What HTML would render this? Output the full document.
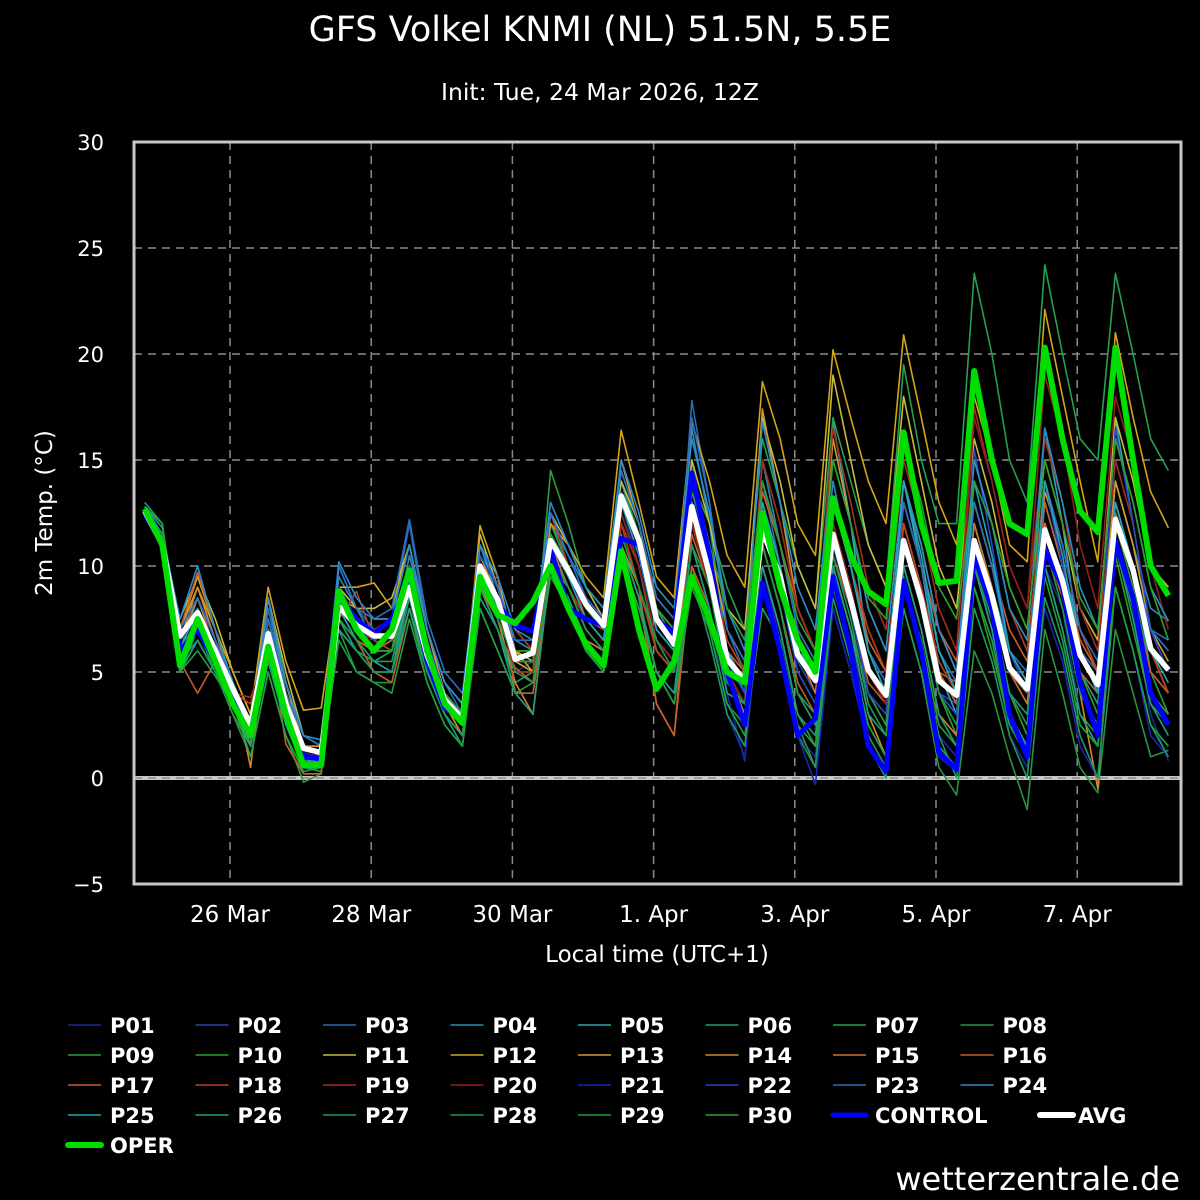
<!DOCTYPE html>
<html><head><meta charset="utf-8"><style>
html,body{margin:0;padding:0;background:#000;}
svg{display:block;font-family:"DejaVu Sans","Liberation Sans",sans-serif;}
</style></head><body>
<svg id="chart" width="1200" height="1200" viewBox="0 0 1200 1200" xmlns="http://www.w3.org/2000/svg">
<rect width="1200" height="1200" fill="#000"/>
<text x="600" y="41" text-anchor="middle" fill="#fff" font-size="35">GFS Volkel KNMI (NL) 51.5N, 5.5E</text>
<text x="600" y="100" text-anchor="middle" fill="#fff" font-size="23.5">Init: Tue, 24 Mar 2026, 12Z</text>
<text transform="translate(52,513) rotate(-90)" text-anchor="middle" fill="#fff" font-size="23">2m Temp. (°C)</text>
<text x="657" y="962" text-anchor="middle" fill="#fff" font-size="23">Local time (UTC+1)</text>
<text x="1180" y="1190" text-anchor="end" fill="#fff" font-size="32">wetterzentrale.de</text>
<defs><clipPath id="plotclip"><rect x="134" y="142" width="1047" height="742"/></clipPath></defs>
<g id="grid"></g>
<g id="series" clip-path="url(#plotclip)"></g>
<g id="axes"></g>
<g id="legend"></g>
</svg>
<script>
const yTicks=[-5,0,5,10,15,20,25,30];
const xTickLabels=["26 Mar","28 Mar","30 Mar","1. Apr","3. Apr","5. Apr","7. Apr"];
const xTickHours=[0,48,96,144,192,240,288];
const avg=[12.6,11,6.7,7.8,6,4.2,2.5,6.8,3.5,1.4,1.2,8.1,7.2,6.7,6.7,9,5.8,3.7,2.8,10,8.4,5.6,5.9,11.2,9.8,8.2,7.2,13.3,11.2,7.5,6.3,12.8,9.6,5.6,4.6,11.7,9.5,5.8,4.6,11.5,8.4,5.1,3.9,11.2,8.4,4.6,3.9,11.2,8.6,5.2,4.2,11.7,9.3,5.8,4.4,12.2,9.8,6.1,5.1];
const oper=[12.7,11,5.3,7.5,5.5,3.5,2,6.2,3,0.6,0.6,8.8,7,6,7,9.8,6,3.5,2.6,9.5,7.7,7.3,8.3,10,8,6.3,5.3,10.7,7,4.2,5.5,9.5,7.5,5,4.5,12.5,9,6.5,5,13.2,10.5,8.8,8.2,16.3,12,9.2,9.3,19.2,15,12,11.5,20.3,16,12.6,11.6,20.3,15,10,8.6];
const control=[12.5,11,6,7,5.5,3.8,2.2,6.3,3.3,1,0.9,8.5,7.5,6.8,7.5,9.3,5.5,3.3,2.8,9.7,8.2,7.2,6.9,10.8,8,7.5,7.2,11.3,11,7.5,6.8,14.4,10.5,5,2.5,9.2,6,2,2.8,9.5,6,1.5,0.3,9.3,6,1.2,0.4,10.5,8,3,1,10.8,9,4.5,2,11.2,8.5,4,2.5];
const p01=[12.5,11.5,6.5,7.5,5.5,4,2,7,3.5,1.5,1,8,7,6.5,7,9,6,4,3,10,8,5,5.5,11,9.5,8,7,13,10,6.5,5,11,8,3,1,9,6,2,1,10,7,2,0.5,9,6,1,0.3,10,7,2,0.5,10,8,3,1.5,11,8,3,0.8];
const p02=[12.3,11,6.8,8,6,4.5,2.5,7.5,4,1.5,1.5,9,7.5,7,6.5,9.5,6,4,3,10.5,9,6,6,11.5,10,8.5,7.5,14,12,8,7,14,10,6,4.5,12,9.5,5.5,4,11,8,4,3,12,9,4,3.5,11,9,5,4,11,9,5,4,12,10,7,6];
const p03=[12.7,11.5,7,8.5,6.5,4.5,2,8,4,2,1.5,10,8,7,7.5,12,7,4.5,3,11,9,6,5.5,12,10,8,7,14,11,7,6,17.8,13,7,5,14,10,6,5,12,9,5,4,13,10,6,4,12,9,5,4,13,10,6,5,14,11,7,6.5];
const p04=[12.8,11.8,7,9,6.5,4,1.5,8.5,4,1.5,1.2,9.5,8,6.5,6,10.5,7,4,2.5,10.5,9,6.5,6,12,10.5,9,8,14.5,12,8,6.5,16.5,12,6,4,15,11,7,5.5,14,10,6,4.5,13,10,5,3.5,12,9,6,4.5,13,10,7,5,14,11,8,7.4];
const p05=[12.6,11.5,6,8.5,6,4,2,7,3.5,1,1,9,7,6,6.5,9.5,6,3.5,2.5,11,8.5,5.5,5,11.5,10,8,7,13.5,11,7,6,13,10,5.5,4,13,10,6,5,16.8,12,6,4,14,10,5,3,12,9,5,4,16.5,12,6,4,17,12,7,5];
const p06=[13,12,5,7,5.5,3.5,2,6,3,0.5,0.5,7,6,5.5,6,8.5,5,3,2,9,7,4.5,5,10,9,7,6,12,10,6.5,5.5,12,9,5,3.5,11,8,4,3,10,7,4,2.5,11,8,4,3,10,8,4,3,12,9,5,3.5,13,10,5,4];
const p07=[12.8,12,5.5,7,5,3,1.5,6,3,0.5,0.3,7.5,6,5.5,5.5,9,5.5,3.5,2.5,10,7.5,5.5,6,12,10,8.5,7.5,14,11.5,8,6.5,14,12,9,7,16,13,10,8,17,14,11,9,19.5,15,12,12,23.8,20,15,13,24.2,20,16,15,23.8,20,16,14.5];
const p08=[12.5,11,5.5,6.5,5,3,1,5,2,-0.2,0.2,7,5,4.5,4.5,8,4.5,2.5,1.5,8,6,4,4,9.5,8,6,5,11,8.5,5,4,10,7,3.5,2.5,9,6,2,0.5,10,6,2,0.5,8,5,0.5,-0.8,6,4,1,-1.5,7,4,0.5,-0.7,7,4,1,1.3];
const p09=[12.7,11.3,6,7,5.5,3.5,1.5,6.5,3,0.5,0.8,8,6.5,6,6,10,6,3.5,2,9,8,5,5,14.5,12,9,8,12,10,6,5,15,10,5,3,12,9,5,3.5,11,8,4,2.5,12,9,4,2,11,8,4,2,12,9,5,3,12,9,5,3];
const p10=[12.6,11,6.5,7.5,5.5,3.5,2,6.5,3,0.8,0.6,8.5,7,6,6.5,9.5,6,3.5,2.5,10,8,5.5,5.5,11,9,7.5,6.5,12.5,10,6.5,5.5,12,9,5,3.5,10,7,3,1.5,9,6,2.5,1,9,6.5,2.5,1.5,9,6,2.5,1.5,10,7,3,2,10.5,7,3.5,2.5];
const p11=[12.6,11,7.5,9.5,7.5,5,3,8.5,5,2,1.5,9,8,8,8.5,11,7,4.5,3.5,11.5,9,6,5.5,12.5,11,9,7.5,14,12,8.5,7.5,15,12,8,7,17,14,10,8,19,15,11,9,18,14,10,8,16,13,9,7,15,12,8,6.5,17,14,10,9];
const p12=[12.5,11,7,9.5,7,5,3,9,5.5,3.2,3.3,9,9,9.2,8,11,7,4,3,11.9,9.5,6,5,12,11,9.5,8.5,16.4,13,9.5,8.5,16.8,14,10.5,9,18.7,16,12,10.5,20.2,17,14,12,20.9,17,13,11,18,15,11,10.2,22.1,18,14,10.2,21,17,13.5,11.8];
const p13=[12.6,11,7,9,7,4.5,2.5,8.5,4.5,1.5,1.5,8.5,8,7.5,7.5,10,6.5,4,3,10.5,8.5,5.5,5,11.5,10,8,7,15,12,8,7,14.5,11,7,5.5,17.4,13,8,6,16,12,8,6,14,11,7,5,13,10,6,4.5,13.5,11,7,5,14,11,7,5.5];
const p14=[12.6,11,6.5,9,6.5,4.5,0.5,7.5,4,0.8,0.7,8,7,6,6,9,5.5,3.5,2,9,7.5,4.5,3,10,8.5,6.5,6,11,9,6,5,12,9.5,5,3,11,8,4,2.5,10,7,3,1,10,7,3,2,10,7,3,1.5,12,9,4,-0.5,11,8,4,3];
const p15=[12.6,11,6.5,8.5,6,4,2,7,3.5,1,0.6,8.5,7,6,6,9.5,5.5,3,2,9,8,5.5,5.5,11,9,7,6,12,10,6.5,5.5,12,9,5,3.5,13,10,6,4,12,9,5,3.5,12,9,5,3.5,12,9,5,3.5,12,9.5,6,4,12.5,10,6,4];
const p16=[12.4,11,5.5,4,5.5,4,2,6,3.5,1.5,1,7.5,6.5,5,4.5,8,5,3.5,2.5,9,9.5,4,4,10,8,6.5,5.5,11,8.5,3.5,2,10,8,4,3.5,11,8,4.5,3,10.5,8,4.5,3.5,11,8.5,5,4.5,11,8.5,5,4,11,8.5,5,4,11,8.5,5,4];
const p17=[12.6,11.5,7,9.7,7,4,1.6,7,1.6,0.2,0.2,7.5,6.5,6,6.5,9.5,5.5,3,2,9,7,5.2,4.5,10.5,9,7.5,7,11.5,9,3.5,2,11.5,9,6,5,13.5,11,8,6,13,10,6.5,5,13,10,7,5.5,13,10,7,5.5,13,10,6.5,5,12.5,10,6,4];
const p18=[12.6,11,6.8,7.5,6,4,3.5,6.5,3.5,1,0.5,7.5,8.8,6.5,6,9,5.5,3.5,2.5,9,8.5,7,6,12.5,10,7.5,6.5,12,9,6,5,13,10,6.5,5,14,11,7,5.5,13,10,7,5,12,9,5.5,4,15,12,8,6,14,11,7,5,13,10,6,4];
const p19=[12.7,11,6.5,7.5,5.5,4,3.8,6,3,1,0.8,8,7,6.5,7,10,6,3.5,2.5,9.5,8,5,5,10.5,9,7.5,6.5,12,10,6.5,5.5,12.5,10,6,4.5,15,12,8,6,16.5,13,9,7,15,12,8,6,17.5,14,10,8,16,13,8,6,15,12,7,5];
const p20=[12.6,11,6.5,7.5,5.5,3.5,2,6.5,3,0.8,0.5,8.5,7,7,7.5,9,5.5,3.5,2.5,10,8.5,6,6,11,9.5,8,7,12.5,10,6.5,5.5,12,9,5,3.5,13,10,6,4.5,12,9,5,3.5,13,10,6,4.5,17,14,10,8,19,16,11,8,18,15,10,7];
const p21=[12.4,11,6.5,7.5,5.5,3.5,2,7,3.5,1.2,1,9,7.5,6,6,9.5,6,4,3,10,8.5,6,6,11,9.5,8,7,13,10.5,7,6,13.5,10,4,0.8,10,6.5,2,-0.3,8,5,1.5,0.5,9,6,2,1,9,6.5,2.5,1,8,5.5,1.5,0,9,6,2,1];
const p22=[12.5,11,6.5,8,6,4,2,7.5,3.8,1.5,1.2,8.5,7.5,6.5,7,10,6.5,4,3,10.5,9,6,6,11.5,10,8.5,7.5,13.5,11,7.5,6.5,14,10,5.5,4,12,9,5,3.5,11,8,4,3,11,8,4,3,15.5,11,6,4,14,10,6,4,16.5,12,7,5];
const p23=[12.5,11.5,7,8.5,6.5,4.5,2.5,7.5,4,2,1.5,10,8,7.5,8,12.2,7.5,5,4,11,9,6.5,6.5,12.5,10.5,8.5,7.5,14.5,12,8.5,7.5,17,13,7,5.5,14,11,7,5.5,13,10,6,4.5,13,10,6,4.5,13,10,6,5,14,11,7,5.5,13,10,7,6];
const p24=[12.8,11.5,7.5,10,7,4.5,2.5,8.5,4.5,2,1.8,10.2,8.5,7.5,7.5,11,7,4.5,3.5,11,9.5,7,6.5,13,11,9,8,15,12.5,9,8,16,12.5,8,6,16.8,13,9,7,15,12,8,6,14,11,7,5,15,12,8,6.5,16.5,13,9,7,16,13,9,7.4];
const p25=[12.6,11,6,8,5.5,3.5,1.5,7,3,0.8,0.8,8,6.5,5.5,5,9,5.5,3.5,2.5,9.5,8,5.5,5.5,11,9.5,7.5,6.5,13,10.5,7,6,13,10,6,4.5,13,10,6,4.5,13,10,6,4,14,10.5,6,4,14,10.5,6,4.5,14,10.5,6,4,13,10,6,4.5];
const p26=[12.6,11,5,6.5,5,3.5,1.5,5.5,2.5,0.5,0.5,7,6,5,5,8,5,3,1.5,8.5,7,4,3,10,8.5,6,5,11,8.5,5,4,11,8,4,3.5,10,7,3,2,10,7,3,2,10,7,3,1.5,10,7,3,1.5,10,7,3,1.5,11,7.5,3.5,2];
const p27=[12.7,11.5,5.5,6.5,5,3.5,2,6,3,0.8,0.6,7.5,6,5,5,8.5,5,3,2,9,7,5,4.5,10,8.5,6.5,5.5,10.5,8,5,3.5,9.5,6.5,3,1.5,9,6,2.5,0.5,8.5,5.5,1.5,0,9.5,6,2,0,8,5.5,2,0,8.5,6,2,0,9,6,2.5,1];
const p28=[12.6,11,5.5,7,5.5,4,2,6.5,3.5,1,0.8,7.5,6.5,5.5,6,9,5.5,3.5,2.5,9.5,7.5,5.5,5.5,10.5,9,7,6,11.5,9,6.5,5,11,9,4.5,3.5,11,8,4,2.5,10.5,7.5,3.5,2,11,8,4,2.5,10,7.5,4,2.5,11,8,4,2.5,11,8,4,3];
const p29=[12.7,11,5,6,4.8,3.5,1,5,2,0.3,0.5,6.5,5,4.5,4,7.5,4.5,2.5,1.5,8,6,4,4.5,10,8,6,5,10,8,5,3.5,9,7,3.5,2,8,6.5,2.5,1.5,9,6,2.5,1,8,5,1.5,0.5,9,6.5,2.5,1,9.5,6.5,2.5,1.5,9,6,2.5,1.5];
const p30=[12.8,12,6,7.5,5.5,4,2,7,3.5,1,0.8,8.5,7,6,6,9.5,6,4,3,10,8,6,6,11.5,10,8,7,13,11,8,7,13.5,11,8,6.5,14,11,7.5,6,15,12,8.5,7.5,16,13,9,7.5,14,12,9,7,15,12,8.5,7,16,13,9,6.5];
const members=[p01,p02,p03,p04,p05,p06,p07,p08,p09,p10,p11,p12,p13,p14,p15,p16,p17,p18,p19,p20,p21,p22,p23,p24,p25,p26,p27,p28,p29,p30];
const memberColors=["#1c2a8c","#2448a8","#2a6cb0","#2a8cb4","#2aa8b8","#23987e","#24a050","#2a9440","#2e9c38","#2aa028","#c8bc3c","#d4a41c","#d49a30","#d08a2c","#d07030","#c05e2c","#c8602c","#b8401e","#a0301c","#901e1e","#1a24b4","#2646c4","#2a6ec4","#2a8ec8","#20a8b0","#1ea080","#1e9a60","#1e9a50","#20a040","#2ea030"];

const NS="http://www.w3.org/2000/svg";
const X0=134,X1=1181,Y0=142,Y1=884;
function yScale(v){return Y1-(v+5)*(Y1-Y0)/35;}
function xHours(h){return 230+h*70.6/24;}
function xIndex(i){return xHours(i*6-29);}
function mk(tag,attrs,parent){const e=document.createElementNS(NS,tag);for(const k in attrs)e.setAttribute(k,attrs[k]);parent.appendChild(e);return e;}
const grid=document.getElementById('grid'),series=document.getElementById('series'),axes=document.getElementById('axes'),legend=document.getElementById('legend');

yTicks.forEach(v=>{
  const y=yScale(v);
  if(v>-5&&v<30&&v!==0){
    const l=mk('line',{x1:X0,x2:X1,y1:y,y2:y,stroke:'#8a8a8a','stroke-width':1.5,'stroke-dasharray':'8,6'},grid);
    
    
  }
  const t=mk('text',{x:104,y:y+8,'text-anchor':'end',fill:'#fff','font-size':21},axes);
  t.textContent=v<0?'\u2212'+Math.abs(v):String(v);
  
  
});
xTickHours.forEach((h,i)=>{
  const x=xHours(h);
  const l=mk('line',{x1:x,x2:x,y1:Y0,y2:Y1,stroke:'#8a8a8a','stroke-width':1.5,'stroke-dasharray':'8,6'},grid);
  
  
  const t=mk('text',{x:x,y:922,'text-anchor':'middle',fill:'#fff','font-size':23},axes);
  t.textContent=xTickLabels[i];
  
  
});
const zl=mk('rect',{x:X0,y:yScale(0)-2,width:X1-X0,height:4,fill:'#c8c8c8'},grid);


const zd=mk('line',{x1:X0,x2:X1,y1:yScale(0),y2:yScale(0),stroke:'#8a8a8a','stroke-width':1.5,'stroke-dasharray':'8,6'},grid);


const frame=mk('rect',{x:X0,y:Y0,width:X1-X0,height:Y1-Y0,fill:'none',stroke:'#c8c8c8','stroke-width':3},axes);



function pts(arr){return arr.map((v,i)=>xIndex(i).toFixed(1)+','+yScale(v).toFixed(1)).join(' ');}
members.forEach((arr,k)=>{
  const p=mk('polyline',{points:pts(arr),fill:'none',stroke:memberColors[k],'stroke-width':1.6,'stroke-linejoin':'round'},series);
  
  
});
const cl=mk('polyline',{points:pts(control),fill:'none',stroke:'#0000ff','stroke-width':5,'stroke-linejoin':'round'},series);


const al=mk('polyline',{points:pts(avg),fill:'none',stroke:'#ffffff','stroke-width':5.5,'stroke-linejoin':'round'},series);


const ol=mk('polyline',{points:pts(oper),fill:'none',stroke:'#00dd00','stroke-width':6,'stroke-linejoin':'round'},series);



function legItem(name,color,w,lx,tx,row){
  const y=1025+row*30;
  const g=mk('g',{},legend);
  
  
  mk('line',{x1:lx,x2:lx+33,y1:y,y2:y,stroke:color,'stroke-width':w,'stroke-linecap':w>3?'round':'butt'},g);
  const t=mk('text',{x:tx,y:y+8,fill:'#fff','font-size':21,'font-weight':'bold'},g);
  t.textContent=name;
}
for(let k=0;k<30;k++){
  const col=k%8,row=Math.floor(k/8);
  legItem('P'+String(k+1).padStart(2,'0'),memberColors[k],1.6,68+col*127.5,110+col*127.5,row);
}
legItem('CONTROL','#0000ff',5,68+6*127.5,110+6*127.5,3);
legItem('AVG','#ffffff',6,1040,1078,3);
legItem('OPER','#00dd00',6,68,110,4);
</script>
</body></html>
